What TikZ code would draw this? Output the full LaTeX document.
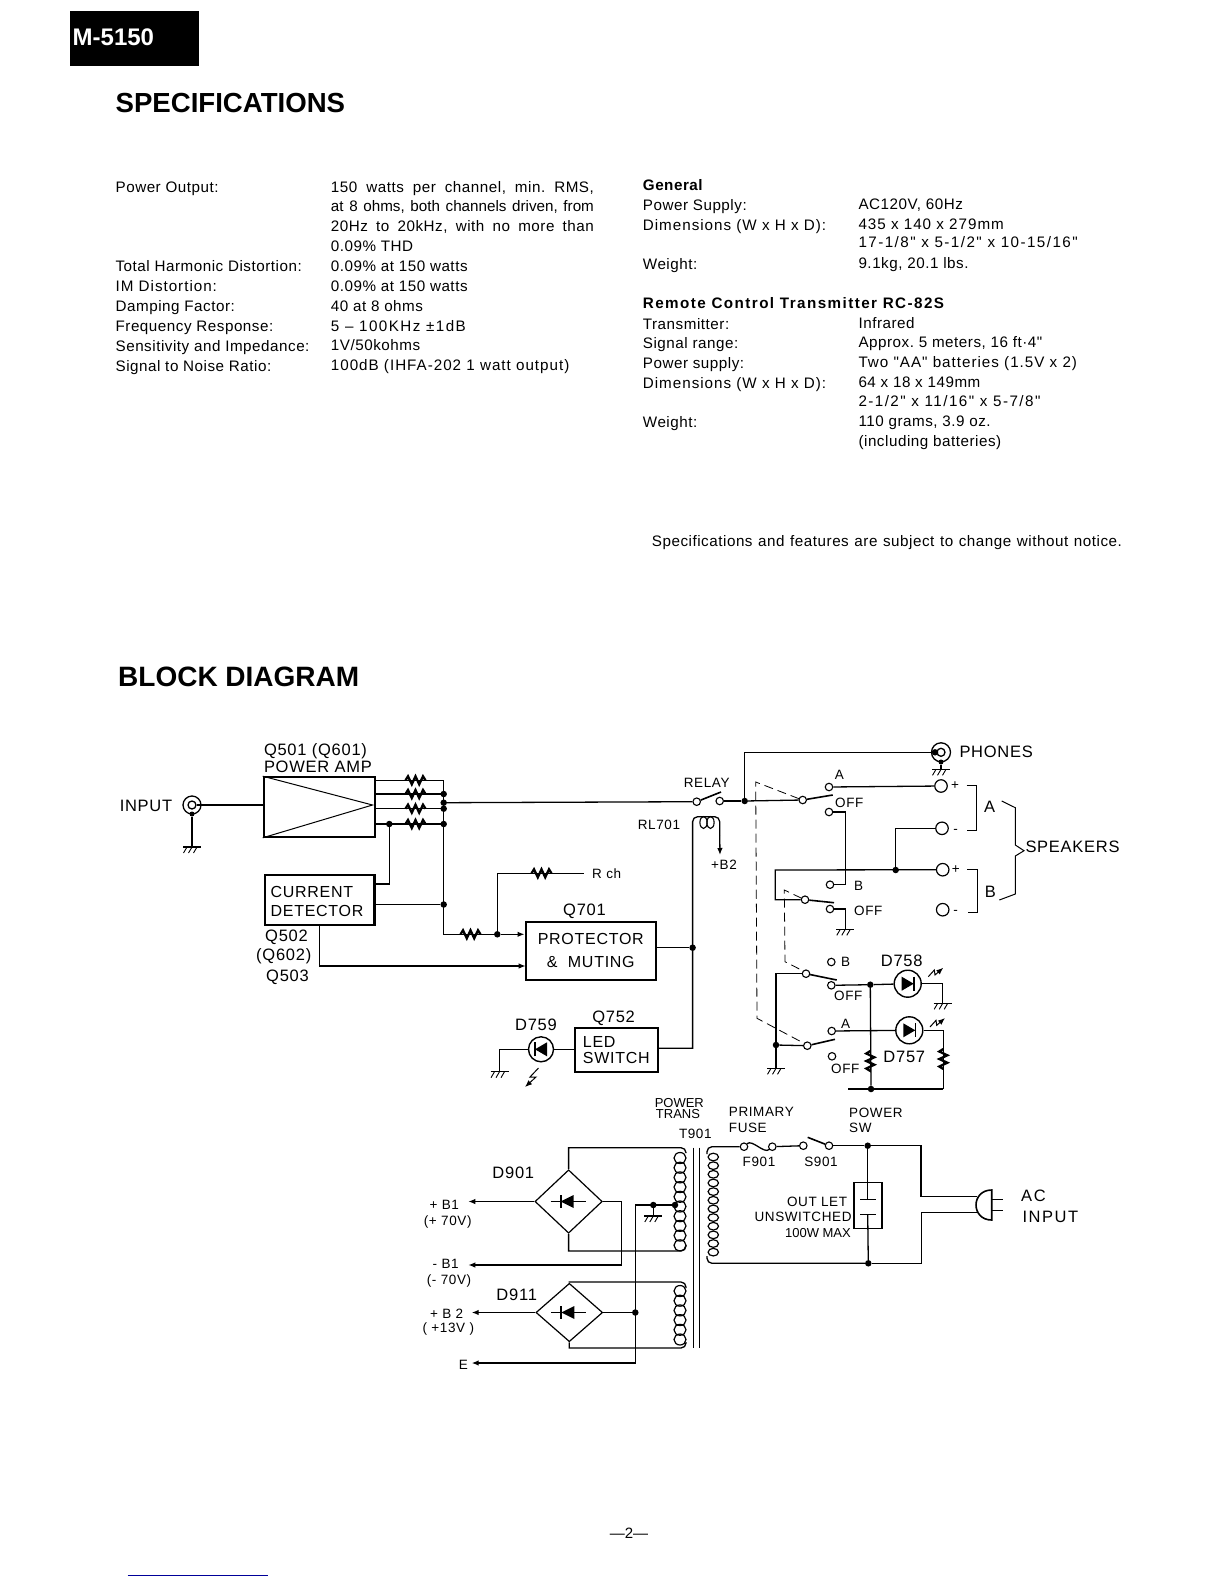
\documentclass[tikz,border=0pt]{standalone}
\usepackage{fontspec}
\usepackage{tikz}
\usetikzlibrary{shapes.geometric,arrows.meta}
\setmainfont{Liberation Sans}
\newfontfamily\specfont[LetterSpace=3.5]{Liberation Sans}
\newfontfamily\specmid[LetterSpace=6.5]{Liberation Sans}
\newfontfamily\specwide[LetterSpace=9.5]{Liberation Sans}
\newfontfamily\dgfont[LetterSpace=4.5]{Liberation Sans}
\AtBeginDocument{\frenchspacing}

\tikzset{
  >={Latex[length=7pt,width=5.5pt]},
  spectext/.style={font=\specfont\fontsize{15.2}{18}\selectfont,anchor=west,inner sep=0pt,text height=12pt,text depth=1pt},
  heading/.style={font=\bfseries\fontsize{27.6}{30}\selectfont,anchor=west,inner sep=0pt},
  lbl/.style={font=\dgfont\fontsize{16.5}{19}\selectfont,inner sep=0pt},
  lblsm/.style={font=\dgfont\fontsize{13.5}{15}\selectfont,inner sep=0pt},
  lbltiny/.style={font=\fontsize{13}{15}\selectfont,inner sep=0pt},
  blk/.style={draw,line width=2.2pt,inner sep=0pt},
  wire/.style={line width=1.3pt},
  blade/.style={line width=1.6pt},
  jdot/.style={circle,fill,inner sep=0pt,minimum size=6.5pt},
  contact/.style={circle,draw,line width=1.1pt,fill=white,inner sep=0pt,minimum size=7.5pt},
  term/.style={circle,draw,line width=1.2pt,inner sep=0pt,minimum size=12.5pt},
  jackout/.style={circle,draw,line width=1.3pt,inner sep=0pt,minimum size=18pt},
  jackin/.style={circle,draw,line width=1.3pt,inner sep=0pt,minimum size=8pt},
  diode/.style={circle,draw,line width=1.4pt,inner sep=0pt,minimum size=25pt},
  bridge/.style={diamond,draw,line width=1.2pt,inner sep=0pt,shape aspect=1},
  hres/.pic={\draw[line width=2.3pt] (-10,0) -- (-7.5,-4) -- (-3.7,4) -- (0,-4) -- (3.7,4) -- (7.5,-4) -- (10,0);},
  gnd/.pic={\draw[line width=1.1pt] (-9,0) -- (9,0);
    \foreach \t in {-5,0,5} \draw[line width=.9pt] (\t,0) -- (\t-3.5,6);},
  bridgediode/.pic={\draw[line width=1.3pt] (-18,0) -- (17,0);
    \draw[line width=1.8pt] (-8,-6.5) -- (-8,6.5);
    \fill (-8,0) -- (5,-6.5) -- (5,6.5) -- cycle;},
  ledright/.pic={\draw[line width=1.6pt] (6,-7) -- (6,7);
    \fill (6,0) -- (-6,-7) -- (-6,7) -- cycle;},
  ledray/.pic={\draw[->,line width=1pt] (0,0) -- (6,-6.7) -- (6.7,-1.7) -- (15,-9);},
}

\begin{document}
\begin{tikzpicture}[x=1pt,y=-1pt]
\useasboundingbox (0,0) rectangle (1224,1584);

\node[fill=black,inner sep=0pt,minimum width=129pt,minimum height=55pt] (tag) at (134.5,38.5) {};
\node[anchor=west,inner sep=0pt,white,font=\bfseries\fontsize{24}{26}\selectfont] (model) at (72.5,37) {M-5150};
\node[heading] (spechead) at (115.4,103) {SPECIFICATIONS};
\node[heading,font=\bfseries\fontsize{28}{30}\selectfont] (blockhead) at (118,677) {BLOCK DIAGRAM};

\foreach \ypos/\txt [count=\n] in {187.3/{Power Output:},266/{Total Harmonic Distortion:},286/{\specmid IM Distortion:},306/{Damping Factor:},326/{Frequency Response:},345.7/{Sensitivity and Impedance:},365.7/{Signal to Noise Ratio:}}
\node[spectext] (lefta\n) at (115.4,\ypos) {\txt};
\foreach \ypos/\txt [count=\n] in {186.5/{\makebox[263pt][s]{150 watts per channel, min. RMS,}},206/{\rmfamily\makebox[263pt][s]{at 8 ohms, both channels driven, from}},225.5/{\makebox[263pt][s]{20Hz to 20kHz, with no more than}},245.5/{0.09\% THD},265.5/{0.09\% at 150 watts},285.5/{0.09\% at 150 watts},305.5/{40 at 8 ohms},325.5/{\specwide 5 – 100KHz ±1dB},345/{1V/50kohms},364.5/{\specmid 100dB (IHFA-202 1 watt output)}}
\node[spectext] (leftb\n) at (330.7,\ypos) {\txt};
\foreach \ypos/\txt [count=\n] in {185.3/{\bfseries General},205/{Power Supply:},225/{\specmid Dimensions (W x H x D):},263.7/{Weight:},303.3/{\specwide\bfseries Remote Control Transmitter RC-82S},324.3/{Transmitter:},343.3/{Signal range:},363.3/{Power supply:},382.7/{\specmid Dimensions (W x H x D):},422.3/{Weight:}}
\node[spectext] (righta\n) at (642.7,\ypos) {\txt};
\foreach \ypos/\txt [count=\n] in {203.7/{AC120V, 60Hz},223.7/{\specmid 435 x 140 x 279mm},241.7/{\specwide 17-1/8" x 5-1/2" x 10-15/16"},262.7/{9.1kg, 20.1 lbs.},323/{Infrared},342/{Approx. 5 meters, 16 ft·4"},361.7/{\specmid Two "AA" batteries (1.5V x 2)},381.7/{64 x 18 x 149mm},400.7/{\specwide 2-1/2" x 11/16" x 5-7/8"},421.3/{110 grams, 3.9 oz.},441/{(including batteries)}}
\node[spectext] (rightb\n) at (858.3,\ypos) {\txt};
\node[spectext] (notice) at (651.7,541) {\makebox[470pt][s]{Specifications and features are subject to change without notice.}};

\node[blk,minimum width=111pt,minimum height=59.4pt] (amp) at (319.3,807) {};
\node[blk,minimum width=109.8pt,minimum height=49.7pt] (det) at (319.5,899.9) {};
\node[lbl,font=\dgfont\fontsize{16}{18.7}\selectfont,align=left] (detl) at (317,901.7) {CURRENT\\DETECTOR};
\node[blk,minimum width=130.4pt,minimum height=58.3pt,lbl,line width=2.2pt,font=\dgfont\fontsize{16}{23}\selectfont,align=center] (prot) at (590.8,950.9) {PROTECTOR\\\&\ \ MUTING};
\node[blk,minimum width=83.4pt,minimum height=44.6pt,lbl,line width=2.2pt,font=\dgfont\fontsize{16}{16.7}\selectfont,align=left] (ledbox) at (616.3,1050) {LED\\SWITCH};

\node[lbl] (inlbl) at (146,805.7) {INPUT};
\node[lbl,anchor=west] (q501) at (263.8,751.5) {Q501 (Q601)};
\node[lbl,anchor=west] (ampl) at (263.8,766.7) {POWER AMP};
\node[lbl,anchor=west] (q502) at (265,937.7) {Q502};
\node[lbl,anchor=west] (q602) at (256,956.3) {(Q602)};
\node[lbl,anchor=west] (q503) at (266,977) {Q503};
\node[lblsm,anchor=west] (rch) at (592,873.3) {R ch};
\node[lbl] (q701) at (584.5,911) {Q701};
\node[lbl] (d759l) at (536,1025) {D759};
\node[lbl] (q752) at (613.6,1018.5) {Q752};
\node[lblsm] (relayl) at (706.7,783.3) {RELAY};
\node[lblsm] (rl701) at (659,825.3) {RL701};
\node[lblsm] (b2rl) at (724,865) {+B2};
\node[lbl,anchor=west] (phl) at (959.3,752.3) {PHONES};
\node[lbl,anchor=west] (spk) at (1025.3,847.3) {SPEAKERS};
\node[lbl] (abr) at (989.7,807) {A};
\node[lbl] (bbr) at (990.3,892) {B};
\node[lblsm] (la) at (839.3,775.3) {A};
\node[lblsm,anchor=west] (loffa) at (835,802.7) {OFF};
\node[lblsm] (pa) at (955,786) {+};
\node[lblsm] (ma) at (955.7,831) {-};
\node[lblsm] (pb) at (955.7,869.7) {+};
\node[lblsm] (mb) at (955.7,912) {-};
\node[lblsm] (lb) at (858.7,885.7) {B};
\node[lblsm,anchor=west] (loffb) at (854,911) {OFF};
\node[lblsm] (lc) at (845.7,962.3) {B};
\node[lblsm] (loffc) at (848.3,996) {OFF};
\node[lblsm] (ld) at (845.7,1023.7) {A};
\node[lblsm] (loffd) at (845.3,1068.7) {OFF};
\node[lbl] (d758l) at (901.7,960.7) {D758};
\node[lbl] (d757l) at (904.3,1056.7) {D757};

\node[lbltiny] (ptpow) at (679.3,1102.7) {POWER};
\node[lbltiny] (pttr) at (678,1114) {TRANS};
\node[lblsm] (t901) at (695.3,1134) {T901};
\node[lblsm,anchor=west] (pfa) at (728.7,1111.7) {PRIMARY};
\node[lblsm,anchor=west] (pfb) at (728.7,1128.3) {FUSE};
\node[lblsm,anchor=west] (psa) at (849,1113.3) {POWER};
\node[lblsm,anchor=west] (psb) at (849,1127.7) {SW};
\node[lblsm] (f901) at (759,1162.3) {F901};
\node[lblsm] (s901) at (821,1161.7) {S901};
\node[lblsm,anchor=east] (ola) at (847.3,1202.3) {OUT\ LET};
\node[lblsm,anchor=east] (olb) at (851.7,1217.3) {UNSWITCHED};
\node[lbltiny,anchor=east] (olc) at (851,1232.7) {100W MAX};
\node[lbl,anchor=west,font=\specwide\fontsize{16.5}{19}\selectfont] (aca) at (1021,1196) {AC};
\node[lbl,anchor=west,font=\specwide\fontsize{16.5}{19}\selectfont] (acb) at (1022.3,1216.7) {INPUT};
\node[lbl] (d901l) at (513.3,1172.7) {D901};
\node[lbl] (d911l) at (516.7,1295) {D911};
\node[lblsm] (b1p) at (444.3,1205) {+ B1};
\node[lblsm] (b1pv) at (447.7,1221.7) {(+ 70V)};
\node[lblsm] (b1m) at (445.7,1264.3) {- B1};
\node[lblsm] (b1mv) at (449,1280.7) {(- 70V)};
\node[lblsm] (b2p) at (446.7,1314) {+ B 2};
\node[lblsm] (b2pv) at (448.3,1329) {( +13V )};
\node[lblsm] (el) at (463.3,1365) {E};
\node[font=\fontsize{15}{17}\selectfont,inner sep=0pt] (pageno) at (629,1533) {—2—};
\draw[blue!60!black,line width=1pt] (127.5,1575.3) -- (268,1575.3);

\node[jackout] (injack) at (192,805) {};
\node[jackin] (injackc) at (192,805) {};
\node[jdot,minimum size=5pt] (injd) at (192,814) {};
\coordinate (ingnd) at (192,847);
\coordinate (ampapex) at (372.5,805);
\draw[wire] (injackc) -- (injack -| amp.west);
\draw[wire] (injd) -- (ingnd);
\pic at (ingnd) {gnd};
\draw[line width=1pt] (amp.north west) -- (ampapex) -- (amp.south west);

\coordinate (bustop) at (443.7,780.3);
\coordinate (busbot) at (443.7,934.3);
\foreach \yo/\n in {780.3/a,794/b,808.7/c,824/d} {
\coordinate (ro\n) at (415.5,\yo);
\draw[wire] (ro\n -| amp.east) -- (ro\n -| bustop);
\pic at (ro\n) {hres};
}
\foreach \yo/\n in {794/b,802.7/m,808.7/c,824/d,904.5/e}
\node[jdot] (bus\n) at (443.7,\yo) {};
\node[jdot] (sensedot) at (389.3,824) {};
\coordinate (detin) at (374.4,884);
\node[jdot] (protdot) at (497.3,934.3) {};
\coordinate (protb) at (525.6,966);
\coordinate (rchend) at (584,873.3);
\draw[wire] (bustop) -- (busbot) -- (protdot);
\pic at (470.5,934.3) {hres};
\draw[wire,->] (protdot) -- (protdot -| prot.west);
\draw[wire] (protdot) |- (rchend);
\pic at (541.5,873.3) {hres};
\draw[wire] (sensedot) |- (detin);
\draw[wire] (buse) -- (buse -| det.east);
\draw[line width=1.1pt,->] (det.south) |- (protb);

\node[contact] (rlyl) at (696.7,801.7) {};
\node[contact] (rlyr) at (719.7,801) {};
\draw[wire] (busm) -- (rlyl);
\draw[blade] (rlyl) -- (721,792);
\node[jdot] (spkdot) at (744.7,801) {};
\draw[wire] (rlyr) -- (spkdot);

\node[jdot] (supply) at (692.6,947.7) {};
\coordinate (coilm) at (692.6,840);
\coordinate (coill) at (692.6,816.7);
\coordinate (coilr) at (719.7,816.7);
\coordinate (b2mid) at (719.7,835);
\coordinate (b2tip) at (720,855);
\coordinate (ledin) at (658,1048.3);
\draw[wire] (ledin) -| (coilm) [rounded corners=5pt] -- (coill) -- (coilr) -- (b2mid);
\draw[wire,->] (b2mid) -- (b2tip);
\draw[line width=1.1pt] (703.5,822.5) ellipse (3.6 and 6);
\draw[line width=1.1pt] (710.5,822.5) ellipse (3.6 and 6);
\draw[wire] (prot.east |- supply) -- (supply);

\node[diode] (d759) at (541,1049.3) {};
\pic[rotate=180] at (541,1049.3) {ledright};
\coordinate (gnd759) at (499.5,1071.7);
\draw[wire] (ledbox.west |- d759) -- (d759);
\draw[wire] (d759) -| (gnd759);
\pic at (gnd759) {gnd};
\draw[->,line width=1pt] (538.5,1068) -- (530,1077) -- (536,1077) -- (525,1087);

\node[jackout,minimum size=19pt] (phjack) at (941,752.3) {};
\node[jackin] (phjackc) at (941,752.3) {};
\node[jdot] (phd) at (935,752.3) {};
\node[jdot,minimum size=5pt] (phg) at (941,762) {};
\coordinate (phgnd) at (941,769.3);
\draw[wire] (spkdot) |- (phd);
\draw[wire] (phg) -- (phgnd);
\pic at (phgnd) {gnd};

\node[contact] (swap) at (802.7,800) {};
\node[contact] (swaa) at (829,787) {};
\node[contact] (swao) at (829,812) {};
\node[term] (ta) at (941,786) {};
\node[term] (tam) at (942,828.3) {};
\node[term] (tbp) at (942.7,869.7) {};
\node[term] (tbm) at (942.7,909.7) {};
\node[jdot] (spkj) at (895.7,870) {};
\coordinate (jog) at (845.3,850);
\coordinate (cw) at (775.3,870);
\draw[wire] (spkdot) -- (swap);
\draw[blade] (swap) -- (832.7,795);
\draw[wire] (swaa) -- (ta);
\node[contact] (swbp) at (805,899.7) {};
\node[contact] (swbb) at (830,884.7) {};
\node[contact] (swbo) at (830,909) {};
\coordinate (gndb) at (845.3,929.3);
\draw[wire] (swao) -| (jog) |- (swbb);
\draw[wire] (spkj) |- (tam);
\draw[wire] (tbp) -- (cw) |- (swbp);
\draw[blade] (swbp) -- (834,902.7);
\draw[wire] (swbo) -| (gndb);
\pic at (gndb) {gnd};

\draw[line width=1pt] (966.7,785.7) -- (976.7,785.7) -- (976.7,830.7) -- (967.3,830.7);
\draw[line width=1pt] (967.3,869.7) -- (977.3,869.7) -- (977.3,912.3) -- (968.3,912.3);
\draw[line width=1pt] (1001.7,801) -- (1015.3,807.7) -- (1015.3,845) -- (1024,850.7) -- (1015.3,856) -- (1015.3,894) -- (999.3,900);

\draw[line width=.8pt,dash pattern=on 9pt off 5pt] (799,798.7) -- (755.7,782) -- (757,1018.3) -- (804,1043.3);
\draw[line width=.8pt,dash pattern=on 9pt off 5pt] (801.7,898.3) -- (784.3,890) -- (785,961.7) -- (802.7,970.7);

\node[contact] (swcp) at (806,973.7) {};
\node[contact] (swcb) at (831.3,962) {};
\node[contact] (swco) at (831.3,985.3) {};
\node[contact] (swdp) at (807.3,1045.7) {};
\node[contact] (swda) at (831.7,1031) {};
\node[contact] (swdo) at (832,1056.3) {};
\node[jdot] (lj) at (776,1045) {};
\node[jdot] (ledj) at (870.3,984.7) {};
\node[jdot] (botj) at (871,1089) {};
\node[diode,minimum size=27pt] (d758) at (907.7,983.7) {};
\node[diode,minimum size=27pt] (d757) at (909.3,1030.3) {};
\pic at (907.7,983.7) {ledright};
\pic at (909.3,1030.3) {ledright};
\pic at (928.3,976.7) {ledray};
\pic at (930,1027) {ledray};
\coordinate (lgnd) at (776,1068.3);
\coordinate (gnd758) at (942.7,1003.3);
\coordinate (botl) at (848,1089);
\coordinate (botr) at (943.3,1089);
\draw[blade] (swcp) -- (836.7,980);
\draw[blade] (swdp) -- (835,1039.3);
\draw[wire] (swcp) -| (lj);
\draw[wire] (lj) -- (swdp);
\draw[wire] (lj) -- (lgnd);
\pic at (lgnd) {gnd};
\draw[wire] (swco) -- (ledj) -- (d758);
\draw[wire] (d758) -| (gnd758);
\pic at (gnd758) {gnd};
\draw[wire] (swda) -- (d757);
\draw[wire] (d757) -| (botr);
\draw[wire] (ledj) -- (botj);
\draw[wire] (botl) -- (botr);
\pic[rotate=90] at (870.3,1061) {hres};
\pic[rotate=90] at (943.3,1059) {hres};

\foreach \xc in {693.3,699.3}
\draw[line width=1.5pt] (\xc,1147.7) -- (\xc,1347.7);
\foreach \i in {0,...,9}
\draw[line width=1.2pt] (680,1158+9.7*\i) ellipse (6 and 5.5);
\foreach \i in {0,...,5}
\draw[line width=1.2pt] (680,1291+9.7*\i) ellipse (6 and 5.5);
\foreach \i in {0,...,11}
\draw[line width=1.2pt] (713.3,1157+8.65*\i) ellipse (5.2 and 3.8);

\node[bridge,minimum width=67.3pt,minimum height=63.4pt] (d901) at (568.6,1201.5) {};
\node[bridge,minimum width=66.7pt,minimum height=58.4pt] (d911) at (569.3,1312.5) {};
\pic at (d901) {bridgediode};
\pic at (d911) {bridgediode};
\coordinate (c1m) at (660,1147.7);
\coordinate (c1top) at (686,1147.7);
\coordinate (c1tr) at (686,1153);
\coordinate (c1n) at (660,1251);
\coordinate (c1bot) at (686,1251);
\coordinate (c1br) at (686,1245);
\coordinate (c2m) at (660,1282);
\coordinate (c2top) at (686,1282);
\coordinate (c2tr) at (686,1288);
\coordinate (c2n) at (660,1348);
\coordinate (c2bot) at (686,1348);
\coordinate (c2br) at (686,1342);
\coordinate (d9r) at (621.7,1201.5);
\coordinate (bmin) at (468.3,1265);
\coordinate (bpls) at (468.3,1201.5);
\coordinate (btwo) at (471.7,1312.5);
\coordinate (eend) at (471.7,1363);
\coordinate (ctl) at (635.3,1205);
\coordinate (ggnd) at (653.3,1216);
\node[jdot] (ctap) at (675,1205) {};
\node[jdot] (gj) at (653.3,1205) {};
\node[jdot] (ej) at (635.3,1312.5) {};
\draw[wire] (d901.north) |- (c1m) [rounded corners=5pt] -- (c1top) -- (c1tr);
\draw[wire] (d901.south) |- (c1n) [rounded corners=5pt] -- (c1bot) -- (c1br);
\draw[wire] (d901.east) -- (d9r);
\draw[wire,->] (d9r) |- (bmin);
\draw[wire,->] (d901.west) -- (bpls);
\draw[wire] (ctap) -- (ctl);
\draw[wire,->] (ctl) |- (eend);
\draw[wire] (gj) -- (ggnd);
\pic at (ggnd) {gnd};
\draw[wire] (d911.east) -- (ej);
\draw[wire,->] (d911.west) -- (btwo);
\draw[wire] (d911.north) |- (c2m) [rounded corners=5pt] -- (c2top) -- (c2tr);
\draw[wire] (d911.south) |- (c2n) [rounded corners=5pt] -- (c2bot) -- (c2br);

\node[contact] (fusel) at (744,1146.7) {};
\node[contact] (fuser) at (772.3,1146.7) {};
\node[contact] (swl) at (803.3,1145.7) {};
\node[contact] (swr) at (829,1145.7) {};
\node[jdot] (pwrj) at (867.7,1145.7) {};
\node[jdot] (botdot) at (868.3,1263.3) {};
\node[draw,line width=1.1pt,inner sep=0pt,minimum width=28pt,minimum height=46pt] (outbox) at (868,1205.7) {};
\coordinate (primt) at (707,1146.7);
\coordinate (prims) at (707,1154);
\coordinate (primb) at (707,1263.3);
\coordinate (primc) at (707,1256);
\coordinate (pwrr) at (921,1145.7);
\coordinate (plugtin) at (976.7,1196.7);
\coordinate (plugbin) at (976.7,1212.3);
\coordinate (pwrb) at (921.7,1263.3);
\coordinate (capt) at (867.7,1199.3);
\coordinate (capb) at (867.7,1214.3);
\draw[wire,rounded corners=5pt] (fusel) -- (primt) -- (prims);
\draw[wire,rounded corners=5pt] (botdot) -- (primb) -- (primc);
\draw[wire] (fusel) .. controls (752,1139) and (764,1154) .. (fuser);
\draw[wire] (fuser) -- (swl);
\draw[blade] (swr) -- (807.7,1137.3);
\draw[wire] (swr) -- (pwrj) -- (pwrr) |- (plugtin);
\draw[wire] (plugbin) -| (pwrb) -- (botdot);
\draw[wire] (pwrj) -- (capt);
\draw[wire] (capb) -- (botdot);
\draw[line width=1.6pt] (860,1199.3) -- (876,1199.3);
\draw[line width=1.6pt] (860,1214.3) -- (876,1214.3);
\draw[line width=1.6pt] (991.7,1190) .. controls (970.8,1190) and (970.8,1220) .. (991.7,1220) -- cycle;
\draw[wire] (991.7,1199.3) -- (1003.3,1199.3);
\draw[wire] (991.7,1210.7) -- (1003.3,1210.7);
\end{tikzpicture}
\end{document}
